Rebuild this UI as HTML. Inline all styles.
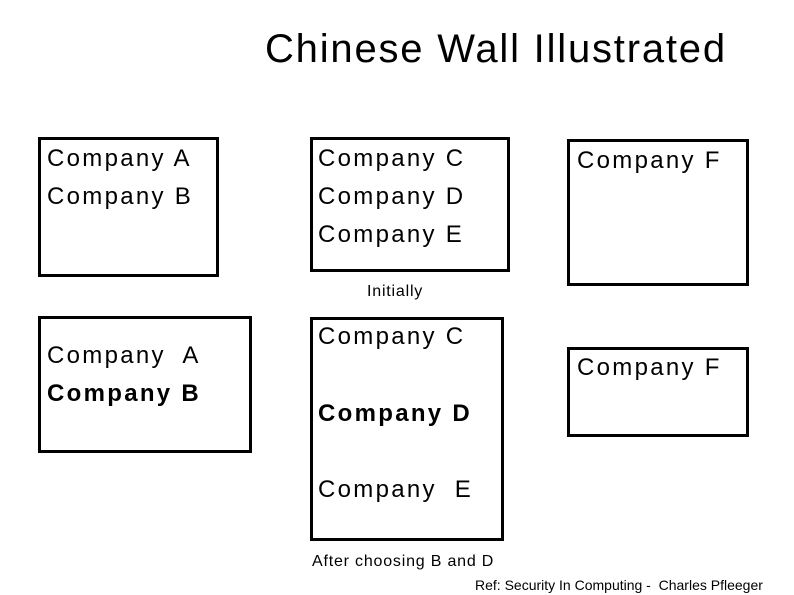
<!DOCTYPE html>
<html><head><style>
body{margin:0;width:794px;height:595px;background:#fff;position:relative;overflow:hidden;font-family:"Liberation Sans",Arial,sans-serif;color:#000}
.b{position:absolute;border:3px solid #000;box-sizing:border-box}
.t{position:absolute;font-size:24px;line-height:38px;white-space:pre;letter-spacing:2.3px}
.s{position:absolute;font-size:16px;white-space:pre;letter-spacing:0.8px}
</style></head><body>
<div class="t" style="left:265px;top:24px;font-size:40px;line-height:50px;letter-spacing:1.8px">Chinese Wall Illustrated</div>

<div class="b" style="left:38px;top:137px;width:181px;height:140px"></div>
<div class="t" style="left:47px;top:140px">Company A
Company B</div>

<div class="b" style="left:310px;top:137px;width:200px;height:135px"></div>
<div class="t" style="left:318px;top:140px">Company C
Company D
Company E</div>

<div class="b" style="left:567px;top:139px;width:182px;height:147px"></div>
<div class="t" style="left:577px;top:142px">Company F</div>

<div class="s" style="left:367px;top:283px">Initially</div>

<div class="b" style="left:38px;top:316px;width:214px;height:137px"></div>
<div class="t" style="left:47px;top:337px">Company  A
<b>Company B</b></div>

<div class="b" style="left:310px;top:317px;width:194px;height:224px"></div>
<div class="t" style="left:318px;top:318px">Company C</div>
<div class="t" style="left:318px;top:395px;font-weight:bold">Company D</div>
<div class="t" style="left:318px;top:471px">Company  E</div>

<div class="b" style="left:567px;top:347px;width:182px;height:90px"></div>
<div class="t" style="left:577px;top:349px">Company F</div>

<div class="s" style="left:312px;top:553px">After choosing B and D</div>
<div class="s" style="left:475px;top:577px;font-size:14px;letter-spacing:0">Ref: Security In Computing -  Charles Pfleeger</div>
</body></html>
